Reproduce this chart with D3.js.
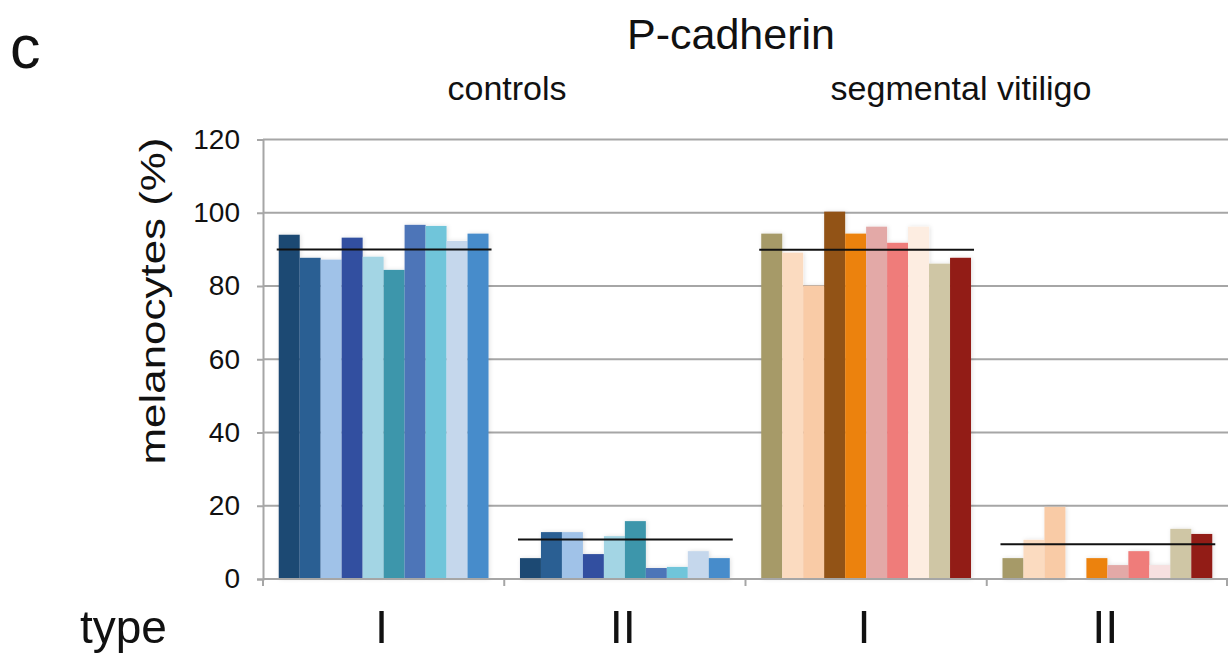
<!DOCTYPE html>
<html>
<head>
<meta charset="utf-8">
<script src="https://cdn.jsdelivr.net/npm/d3@7"></script>
<style>
  body { margin: 0; background: #fff; }
  svg { display: block; font-family: "Liberation Sans", Arial, sans-serif; }
</style>
</head>
<body>
<svg id="chart" width="1229" height="655"></svg>
<script>
// categories along x: control type I, control type II, vitiligo type I, vitiligo type II
const groups = ['ctrlI', 'ctrlII', 'svI', 'svII'];
const groupLabels = ['I', 'II', 'I', 'II'];
const subjects = d3.range(10).map(i => 's' + (i + 1));

const ctrlTypeI = [94.0, 87.7, 87.2, 93.2, 88.0, 84.4, 96.7, 96.4, 92.3, 94.3];
const ctrlTypeII = [5.7, 12.8, 12.8, 6.8, 11.7, 15.8, 3.0, 3.3, 7.6, 5.7];
const svTypeI = [94.3, 89.1, 80.1, 100.3, 94.3, 96.2, 91.8, 96.2, 86.1, 87.7];
const svTypeII = [5.7, 10.7, 19.7, 0, 5.7, 3.8, 7.6, 3.8, 13.7, 12.3];
const means = [90.0, 10.8, 89.9, 9.5];

const ctrlColors = ['#1f4a73', '#2a5f93', '#a0c2e8', '#3050a0', '#a3d5e4',
                    '#3d96ab', '#4d74b8', '#6fc5da', '#c5d7ec', '#468ccb'];
const svColorsI = ['#a69a67', '#fbdbc0', '#f9cba6', '#925217', '#ec820d',
                   '#e3a9a7', '#ef7b7a', '#fdede1', '#cfc6a5', '#921a18'];
const svColorsII = ['#a69a67', '#fbdbc0', '#f9cba6', '#925217', '#ec820d',
                    '#e3a9a7', '#ef7b7a', '#f7e0e0', '#cfc6a5', '#921a18'];

const yTicks = [0, 20, 40, 60, 80, 100, 120];

const groupValues = [ctrlTypeI, ctrlTypeII, svTypeI, svTypeII];
const groupColors = [ctrlColors, ctrlColors, svColorsI, svColorsII];

const svg = d3.select('#chart');
const plotLeft = 263, plotRight = 1228, plotTop = 139.5, plotBottom = 579;

const x = d3.scaleBand().domain(groups).range([plotLeft, plotRight]);
const xInner = d3.scaleBand().domain(subjects).range([0, x.bandwidth()])
  .paddingOuter(0.75);
const y = d3.scaleLinear().domain([0, 120]).range([plotBottom, plotTop]);

const defs = svg.append('defs');
defs.append('filter').attr('id', 'shadow')
  .attr('x', '-20%').attr('y', '-10%').attr('width', '140%').attr('height', '120%')
  .append('feDropShadow')
  .attr('dx', 1).attr('dy', 0).attr('stdDeviation', 2)
  .attr('flood-color', '#000').attr('flood-opacity', 0.12);

// gridlines
svg.append('g')
  .selectAll('line')
  .data(yTicks.filter(d => d > 0))
  .join('line')
  .attr('x1', plotLeft).attr('x2', plotRight)
  .attr('y1', d => y(d)).attr('y2', d => y(d))
  .attr('stroke', '#a6a6a6').attr('stroke-width', 2);

// y axis
const yAxis = svg.append('g')
  .attr('transform', `translate(${plotLeft},0)`)
  .call(d3.axisLeft(y).tickValues(yTicks).tickSize(6).tickPadding(17));
yAxis.select('.domain').attr('stroke', '#a6a6a6').attr('stroke-width', 2);
yAxis.selectAll('.tick line').attr('stroke', '#a6a6a6').attr('stroke-width', 2);
yAxis.selectAll('.tick text').attr('font-size', 28).attr('fill', '#111');

// bars
const barG = svg.append('g').attr('filter', 'url(#shadow)');
groups.forEach((g, gi) => {
  barG.append('g')
    .attr('transform', `translate(${x(g)},0)`)
    .selectAll('rect')
    .data(groupValues[gi])
    .join('rect')
    .attr('x', (d, i) => xInner(subjects[i]))
    .attr('width', xInner.bandwidth())
    .attr('y', d => y(d))
    .attr('height', d => y(0) - y(d))
    .attr('fill', (d, i) => groupColors[gi][i]);
});

// mean lines
svg.append('g')
  .selectAll('line')
  .data(means)
  .join('line')
  .attr('x1', (d, i) => x(groups[i]) + xInner(subjects[0]) - 2)
  .attr('x2', (d, i) => x(groups[i]) + xInner(subjects[9]) + xInner.bandwidth() + 3)
  .attr('y1', d => y(d)).attr('y2', d => y(d))
  .attr('stroke', '#111').attr('stroke-width', 2);

// x axis
const xAxis = svg.append('g')
  .attr('transform', `translate(0,${plotBottom})`);
xAxis.append('line')
  .attr('x1', plotLeft).attr('x2', plotRight)
  .attr('stroke', '#a6a6a6').attr('stroke-width', 2);
xAxis.selectAll('.sep')
  .data(groups.map(g => x(g)).concat([plotRight - 1]))
  .join('line')
  .attr('class', 'sep')
  .attr('x1', d => d).attr('x2', d => d)
  .attr('y1', 0).attr('y2', 7)
  .attr('stroke', '#a6a6a6').attr('stroke-width', 2);
xAxis.selectAll('text')
  .data(groups)
  .join('text')
  .attr('x', d => x(d) + x.bandwidth() / 2 - 2)
  .attr('y', 64)
  .attr('text-anchor', 'middle')
  .attr('font-size', 47)
  .attr('fill', '#111')
  .text((d, i) => groupLabels[i]);

// titles
svg.append('text').attr('x', 10).attr('y', 68).attr('font-size', 61)
  .attr('fill', '#111').text('c');
svg.append('text').attr('x', 731).attr('y', 49).attr('font-size', 43)
  .attr('text-anchor', 'middle').attr('fill', '#111').text('P-cadherin');
svg.append('text').attr('x', 507).attr('y', 100).attr('font-size', 34)
  .attr('text-anchor', 'middle').attr('fill', '#111').text('controls');
svg.append('text').attr('x', 961).attr('y', 100).attr('font-size', 34)
  .attr('text-anchor', 'middle').attr('fill', '#111').text('segmental vitiligo');
svg.append('text')
  .attr('transform', 'translate(165,301) rotate(-90) scale(1.22,1)')
  .attr('font-size', 36).attr('text-anchor', 'middle').attr('fill', '#111')
  .text('melanocytes (%)');
svg.append('text').attr('x', 80).attr('y', 643).attr('font-size', 46)
  .attr('fill', '#111').text('type');
</script>
</body>
</html>
